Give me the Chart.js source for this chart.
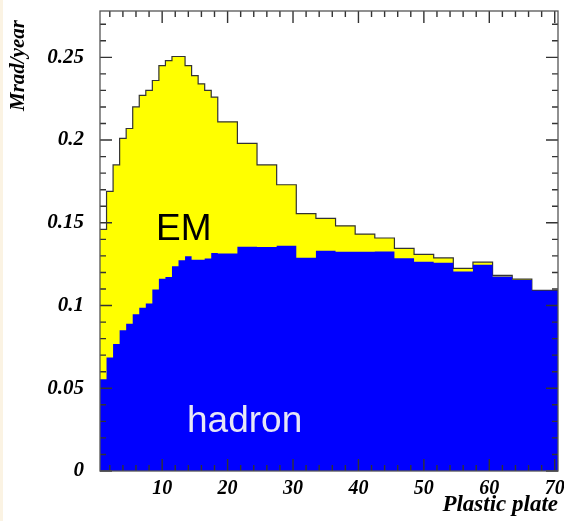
<!DOCTYPE html>
<html>
<head>
<meta charset="utf-8">
<script src="https://cdn.jsdelivr.net/npm/chart.js@4"></script>
<style>
  html, body { margin: 0; padding: 0; background: #fff; }
  #wrap { width: 564px; height: 521px; }
</style>
</head>
<body>
<div id="wrap"><canvas id="doseChart" width="564" height="521"></canvas></div>
<script>
// bin edges along the plates (first 18 plates single, then groups of 3)
var binEdges = [0.5, 1.5, 2.5, 3.5, 4.5, 5.5, 6.5, 7.5, 8.5, 9.5, 10.5, 11.5, 12.5, 13.5,
  14.5, 15.5, 16.5, 17.5, 18.5, 21.5, 24.5, 27.5, 30.5, 33.5, 36.5, 39.5, 42.5, 45.5,
  48.5, 51.5, 54.5, 57.5, 60.5, 63.5, 66.5, 70.5];

// hadron + EM (yellow top)
var totalDose = [0.146, 0.169, 0.185, 0.201, 0.207, 0.220, 0.227, 0.230, 0.236, 0.245,
  0.248, 0.2505, 0.2505, 0.245, 0.239, 0.234, 0.230, 0.226,
  0.211, 0.198, 0.185, 0.173, 0.1555, 0.1527, 0.1482, 0.1432, 0.1408, 0.1345, 0.1309,
  0.1288, 0.1224, 0.1262, 0.1182, 0.1160, 0.1091];

// hadron only (blue)
var hadronDose = [0.0555, 0.0686, 0.0768, 0.0851, 0.0890, 0.0948, 0.0986, 0.1012, 0.1097,
  0.1162, 0.1172, 0.1238, 0.1274, 0.1298, 0.1276, 0.1276, 0.1284, 0.1318,
  0.1314, 0.1355, 0.1353, 0.1361, 0.1289, 0.1331, 0.1325, 0.1325, 0.1327, 0.1285, 0.1264,
  0.1258, 0.1206, 0.1246, 0.1176, 0.1154, 0.1089];

var xTickValues = [10, 20, 30, 40, 50, 60, 70];
var yTickValues = [0, 0.05, 0.1, 0.15, 0.2, 0.25];
var yTickLabels = ['0', '0.05', '0.1', '0.15', '0.2', '0.25'];

function stepPoints(vals) {
  var pts = [];
  for (var i = 0; i < vals.length; i++) {
    pts.push({x: binEdges[i], y: vals[i]});
  }
  pts.push({x: binEdges[binEdges.length - 1], y: vals[vals.length - 1]});
  return pts;
}

var serifFont = '"Liberation Serif", "Times New Roman", serif';

var pageBg = {
  id: 'pageBg',
  beforeDraw: function(chart) {
    var c = chart.ctx;
    c.save();
    c.fillStyle = '#fff';
    c.fillRect(0, 0, chart.width, chart.height);
    c.fillStyle = '#fbf3e3';
    c.fillRect(0, 0, 3, chart.height);
    c.restore();
  }
};

// ROOT style frame with inner ticks, plus the text labels
var frameTicks = {
  id: 'frameTicks',
  afterDraw: function(chart) {
    var c = chart.ctx;
    var a = chart.chartArea;
    var xs = chart.scales.x, ys = chart.scales.y;
    var L = a.left, R = a.right, T = a.top, B = a.bottom;
    c.save();
    c.lineCap = 'butt';
    c.strokeStyle = '#333';
    c.lineWidth = 1.4;
    c.beginPath();
    for (var v = 2; v <= 70; v += 2) {
      var px = xs.getPixelForValue(v);
      var len = (v % 10 === 0) ? 12 : 6;
      c.moveTo(px, B); c.lineTo(px, B - len);
      c.moveTo(px, T); c.lineTo(px, T + len);
    }
    for (var k = 0; k <= 27; k++) {
      var py = ys.getPixelForValue(k * 0.01);
      var tl = (k % 5 === 0) ? 12 : 6;
      c.moveTo(L, py); c.lineTo(L + tl, py);
      c.moveTo(R, py); c.lineTo(R - tl, py);
    }
    c.stroke();
    // frame
    c.strokeStyle = '#555';
    c.lineWidth = 1.3;
    c.strokeRect(L, T, R - L, B - T);

    c.font = '37px "Liberation Sans", Arial, sans-serif';
    c.textBaseline = 'alphabetic';
    c.textAlign = 'left';
    c.fillStyle = '#000';
    c.fillText('EM', 156, 240);
    c.fillStyle = '#e6e6f6';
    c.fillText('hadron', 187, 432);

    // y axis title
    c.translate(24, 20);
    c.rotate(-Math.PI / 2);
    c.font = 'italic bold 21px ' + serifFont;
    c.fillStyle = '#000';
    c.textAlign = 'right';
    c.fillText('Mrad/year', 0, 0);
    c.restore();
  }
};

var ctx = document.getElementById('doseChart').getContext('2d');
new Chart(ctx, {
  type: 'line',
  data: {
    datasets: [
      {
        label: 'hadron',
        data: stepPoints(hadronDose),
        stepped: 'before',
        fill: 'origin',
        backgroundColor: '#0000ff',
        borderColor: '#0000ff',
        borderWidth: 0,
        pointRadius: 0
      },
      {
        label: 'EM',
        data: stepPoints(totalDose),
        stepped: 'before',
        fill: 'origin',
        backgroundColor: '#ffff00',
        borderColor: '#333333',
        borderWidth: 1.2,
        pointRadius: 0
      }
    ]
  },
  options: {
    responsive: false,
    animation: false,
    devicePixelRatio: 1,
    layout: { padding: { left: 0, top: 11, right: 6, bottom: 0 } },
    plugins: {
      legend: { display: false },
      tooltip: { enabled: false }
    },
    scales: {
      x: {
        type: 'linear',
        min: 0.5,
        max: 70.5,
        grid: { display: false, drawTicks: false },
        border: { display: false },
        afterBuildTicks: function(scale) {
          scale.ticks = xTickValues.map(function(v) { return {value: v}; });
        },
        afterFit: function(scale) {
          scale.height = 50;
          scale.paddingLeft = 0;
          scale.paddingRight = 0;
        },
        ticks: {
          autoSkip: false,
          maxRotation: 0,
          padding: 6,
          color: '#000',
          font: { family: serifFont, size: 20, style: 'italic', weight: 'bold' },
          callback: function(v) { return String(v); }
        },
        title: {
          display: true,
          text: 'Plastic plate',
          align: 'end',
          color: '#000',
          font: { family: serifFont, size: 23, style: 'italic', weight: 'bold' },
          padding: { top: 0, bottom: 2 }
        }
      },
      y: {
        type: 'linear',
        min: 0,
        max: 0.278,
        grid: { display: false, drawTicks: false },
        border: { display: false },
        afterBuildTicks: function(scale) {
          scale.ticks = yTickValues.map(function(v) { return {value: v}; });
        },
        afterFit: function(scale) {
          scale.width = 100;
          scale.paddingTop = 0;
          scale.paddingBottom = 0;
        },
        ticks: {
          padding: 16,
          color: '#000',
          font: { family: serifFont, size: 21, style: 'italic', weight: 'bold' },
          callback: function(v, i) { return yTickLabels[i]; }
        }
      }
    }
  },
  plugins: [pageBg, frameTicks]
});
</script>
</body>
</html>
